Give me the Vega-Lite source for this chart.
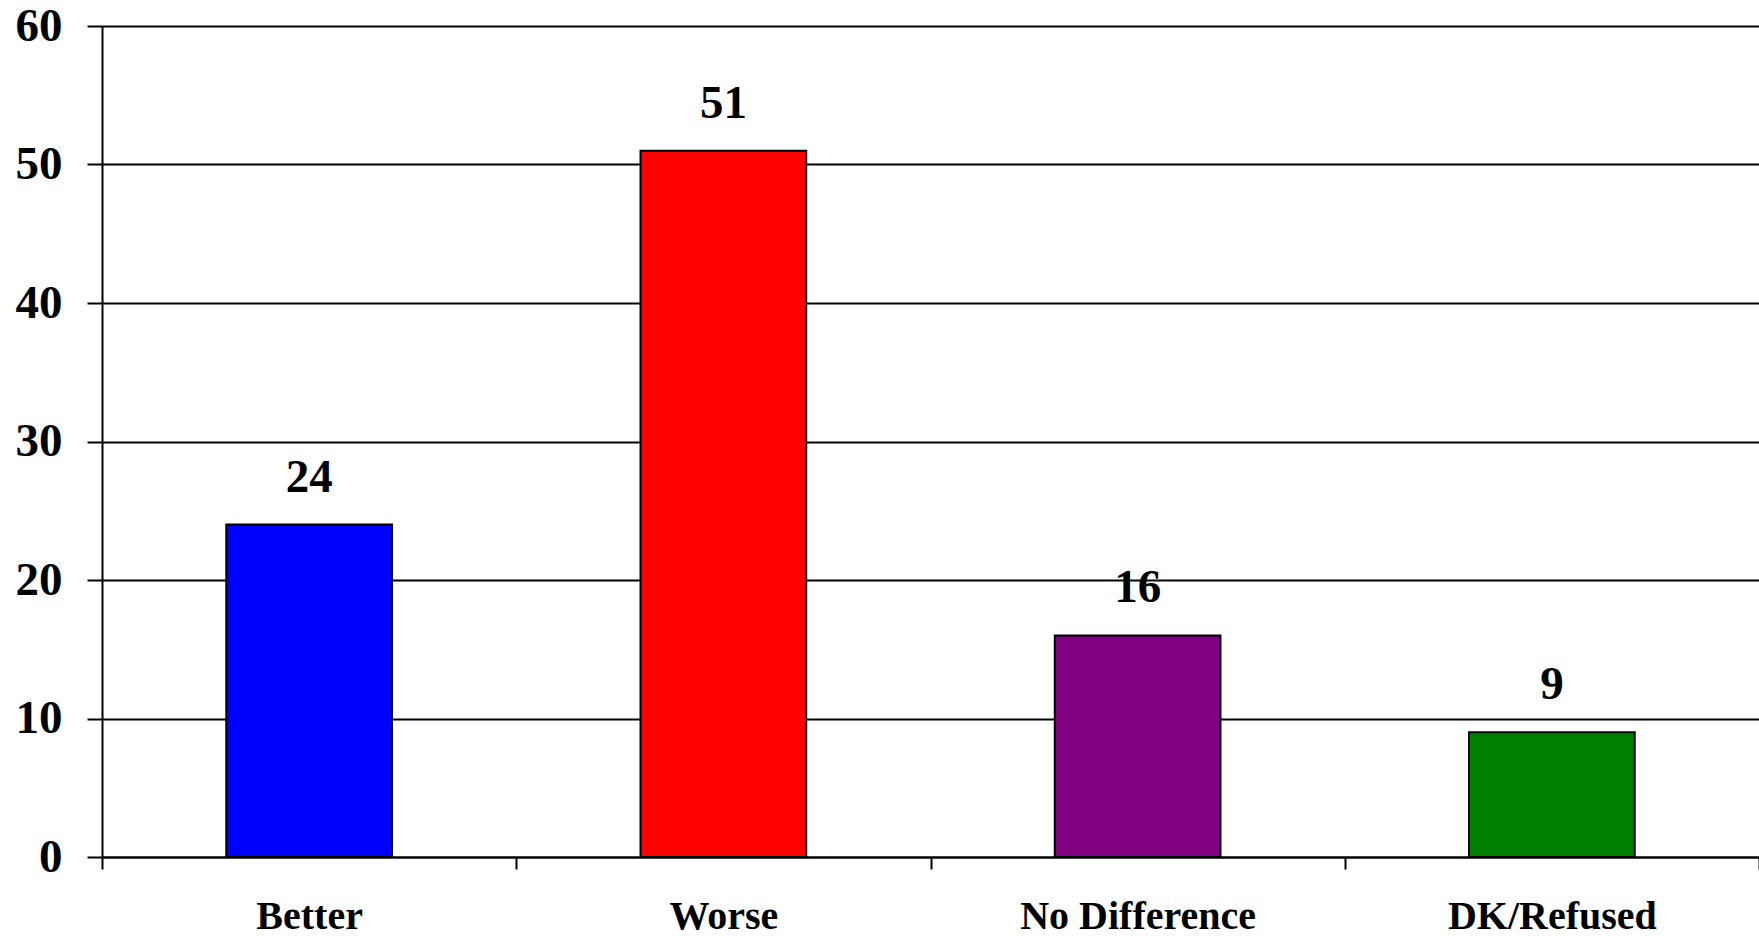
{
  "$schema": "https://vega.github.io/schema/vega-lite/v6.json",
  "width": 1657,
  "height": 831,
  "autosize": {"type": "none"},
  "padding": {"left": 102, "top": 26, "right": 0, "bottom": 79},
  "background": "white",
  "config": {
    "view": {"stroke": null},
    "font": "Liberation Serif"
  },
  "data": {
    "values": [
      {"category": "Better", "value": 24, "color": "#0000FF"},
      {"category": "Worse", "value": 51, "color": "#FF0000"},
      {"category": "No Difference", "value": 16, "color": "#800080"},
      {"category": "DK/Refused", "value": 9, "color": "#008000"}
    ]
  },
  "encoding": {
    "x": {
      "field": "category",
      "type": "nominal",
      "sort": null,
      "scale": {"paddingInner": 0, "paddingOuter": 0},
      "axis": {
        "title": null,
        "labelAngle": 0,
        "labelLimit": 0,
        "labelFont": "Liberation Serif",
        "labelFontWeight": "bold",
        "labelFontSize": 40,
        "labelColor": "black",
        "labelBaseline": "alphabetic",
        "labelPadding": 59,
        "tickBand": "extent",
        "tickSize": 12,
        "tickWidth": 2,
        "tickColor": "black",
        "domainColor": "black",
        "domainWidth": 2
      }
    },
    "y": {
      "field": "value",
      "type": "quantitative",
      "scale": {"domain": [0, 60], "nice": false},
      "axis": {
        "title": null,
        "values": [0, 10, 20, 30, 40, 50, 60],
        "labelFont": "Liberation Serif",
        "labelFontWeight": "bold",
        "labelFontSize": 47,
        "labelColor": "black",
        "labelPadding": 25,
        "tickSize": 15,
        "tickWidth": 2,
        "tickColor": "black",
        "domainColor": "black",
        "domainWidth": 2,
        "grid": true,
        "gridColor": "black",
        "gridWidth": 2,
        "gridOpacity": 1
      }
    }
  },
  "layer": [
    {
      "mark": {"type": "bar", "stroke": "black", "strokeWidth": 2, "width": {"band": 0.4}},
      "encoding": {
        "color": {"field": "color", "type": "nominal", "scale": null, "legend": null}
      }
    },
    {
      "mark": {
        "type": "text",
        "font": "Liberation Serif",
        "fontWeight": "bold",
        "fontSize": 47,
        "color": "black",
        "baseline": "alphabetic",
        "dy": -33
      },
      "encoding": {
        "text": {"field": "value", "type": "quantitative"}
      }
    }
  ]
}
